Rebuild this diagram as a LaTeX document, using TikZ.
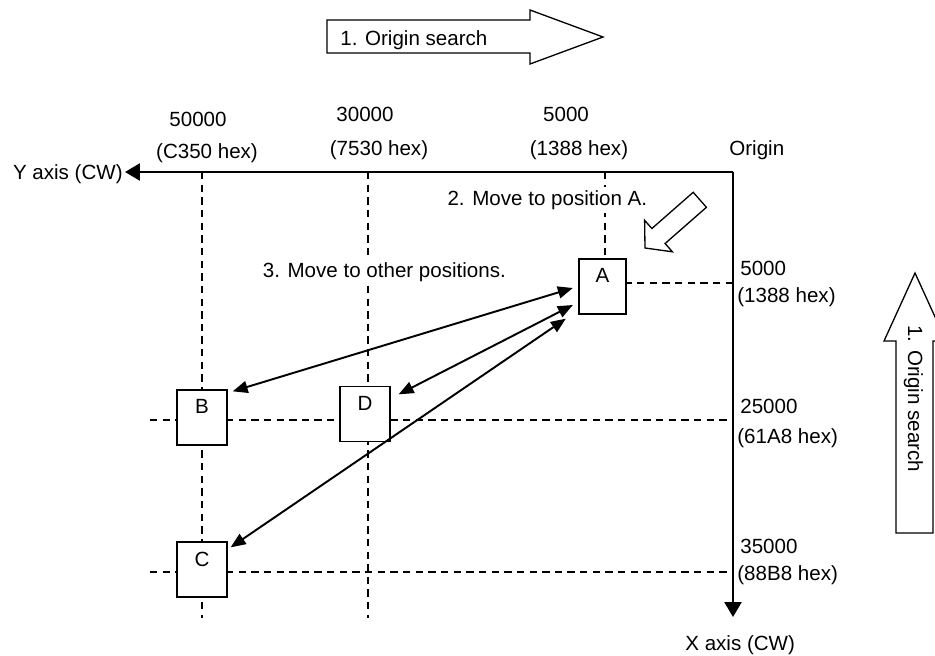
\documentclass[tikz,border=0pt]{standalone}
\usepackage{fontspec}
\setmainfont{Liberation Sans}
\usetikzlibrary{arrows.meta}
\tikzstyle{spot}=[rectangle, draw=black, fill=white, line width=0.75pt,
minimum width=1cm, minimum height=1.1cm, inner sep=0pt]
\tikzstyle{gridline}=[line width=0.9pt, dash pattern=on 4.2pt off 3pt]
\tikzstyle{axisline}=[line width=1.5pt, -{Triangle[length=0.3cm,width=0.34cm]}]
\tikzstyle{move}=[line width=1.1pt,
{Triangle[length=0.3cm,width=0.24cm]}-{Triangle[length=0.3cm,width=0.24cm]}]
\tikzstyle{hollow}=[draw=black, fill=white, line width=0.75pt]
\tikzstyle{txt}=[inner sep=0pt]
\tikzstyle{note}=[fill=white, inner sep=2pt]

\begin{document}
\begin{tikzpicture}[x=0.02cm, y=-0.02cm, font=\fontsize{11.7}{14}\selectfont]
  \useasboundingbox (0,0) rectangle (935,655);
  \clip (0,0) rectangle (935,655);

  % Axes
  \coordinate (O) at (733,172);
  \coordinate (yend) at (125,172);
  \coordinate (xend) at (733,617);
  \draw[axisline] (O) -- (yend);
  \draw[axisline] (O) -- (xend);
  \node (ylab) at (123,179) [txt, anchor=base east]{Y axis (CW)};
  \node (xlab) at (685,650) [txt, anchor=base west]{X axis (CW)};
  \node (origin) at (729,155) [txt, anchor=base west]{Origin};

  % Grid coordinates
  \coordinate (y50) at (202,172);
  \coordinate (y30) at (368,172);
  \coordinate (y5) at (605,172);
  \coordinate (y50b) at (202,618);
  \coordinate (y30b) at (368,618);
  \coordinate (x5) at (733,283);
  \coordinate (x25) at (733,420);
  \coordinate (x35) at (733,572);
  \coordinate (x25a) at (150,420);
  \coordinate (x35a) at (150,572);

  % Dashed lines
  \draw[gridline] (y50) -- (y50b);
  \draw[gridline] (y30) -- (y30b);
  \draw[gridline] (y5) -- (y5 |- x5);
  \draw[gridline] (x5) -- (y5 |- x5);
  \draw[gridline] (x25a) -- (x25);
  \draw[gridline] (x35a) -- (x35);

  % Positions
  \node (A) at (602.5,286.5) [spot, minimum width=0.94cm,
    label={[anchor=north, inner sep=0.2cm]north:A}]{};
  \node (B) at (202,417.5) [spot, label={[anchor=north, inner sep=0.2cm]north:B}]{};
  \node (D) at (365,414) [spot, label={[anchor=north, inner sep=0.2cm]north:D}]{};
  \node (C) at (202,569.5) [spot, label={[anchor=north, inner sep=0.2cm]north:C}]{};

  % Moves
  \draw[move] ([shift={(-5.5,1.5)}]A.west) -- ([shift={(5,2)}]B.north east);
  \draw[move] ([shift={(-5.5,18.5)}]A.west) -- ([shift={(8,8.5)}]D.north east);
  \draw[move] ([shift={(-12.5,4)}]A.south west) -- ([shift={(3,6)}]C.north east);

  % Hollow arrows
  \draw[hollow] (327,20) -- (530,20) -- (530,10) -- (603,37) -- (530,64)
    -- (530,53) -- (327,53) -- cycle;
  \node (search1) at (340,46) [txt, anchor=base west]{1. Origin search};
  \draw[hollow] (896,533) -- (896,341) -- (884,341) -- (915,273) -- (946,341)
    -- (933,341) -- (933,533) -- cycle;
  \node (search2) at (908,325) [txt, rotate=-90, anchor=base west]{1. Origin search};
  \draw[hollow] (645,248) -- (644.6,220.3) -- (651.9,228.5) -- (693.2,192.3)
    -- (706.4,207.3) -- (665.1,243.5) -- (672.4,251.8) -- cycle;

  % Top values
  \node (t50) at (198,127) [txt, anchor=base]{50000};
  \node (t50h) at (207,158) [txt, anchor=base]{(C350 hex)};
  \node (t30) at (365,122) [txt, anchor=base]{30000};
  \node (t30h) at (379,155) [txt, anchor=base]{(7530 hex)};
  \node (t5) at (566,122) [txt, anchor=base]{5000};
  \node (t5h) at (579,155) [txt, anchor=base]{(1388 hex)};

  % Right values
  \node (r5) at (740,275) [txt, anchor=base west]{5000};
  \node (r5h) at (737,302) [txt, anchor=base west]{(1388 hex)};
  \node (r25) at (740,413) [txt, anchor=base west]{25000};
  \node (r25h) at (737,443) [txt, anchor=base west]{(61A8 hex)};
  \node (r35) at (740,553) [txt, anchor=base west]{35000};
  \node (r35h) at (737,580) [txt, anchor=base west]{(88B8 hex)};

  % Steps
  \node (step2) at (651,205) [note, anchor=base east]{2. Move to position A.};
  \node (step3) at (259,277) [note, anchor=base west]{3. Move to other positions.};
\end{tikzpicture}
\end{document}
